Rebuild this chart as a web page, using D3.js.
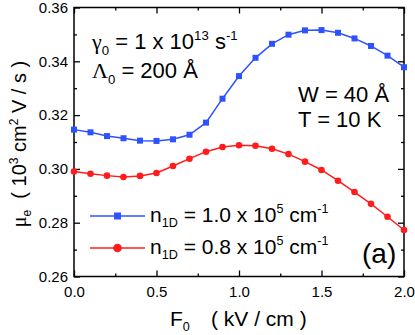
<!DOCTYPE html>
<html><head><meta charset="utf-8">
<script src="https://cdn.jsdelivr.net/npm/d3@7"></script>
<style>
html,body{margin:0;padding:0;background:#fff;}
svg{display:block;font-family:"Liberation Sans",Arial,sans-serif;}
text{white-space:pre;}
</style></head>
<body>
<svg id="c" width="415" height="335"></svg>
<script>
const xValues = [0.0,0.1,0.2,0.3,0.4,0.5,0.6,0.7,0.8,0.9,1.0,1.1,1.2,1.3,1.4,1.5,1.6,1.7,1.8,1.9,2.0];
const blueValues = [0.3146,0.3136,0.3122,0.3114,0.3105,0.3104,0.3110,0.3127,0.3172,0.3261,0.3345,0.3413,0.3465,0.3499,0.3515,0.3516,0.3506,0.3485,0.3457,0.3421,0.3378];
const redValues = [0.2990,0.2982,0.2975,0.2970,0.2974,0.2985,0.3011,0.3038,0.3064,0.3081,0.3088,0.3086,0.3075,0.3055,0.3027,0.2996,0.2956,0.2914,0.2870,0.2822,0.2773];
const xTicks = [0.0,0.5,1.0,1.5,2.0];
const xTickLabels = ["0.0","0.5","1.0","1.5","2.0"];
const yTicks = [0.26,0.28,0.30,0.32,0.34,0.36];
const yTickLabels = ["0.26","0.28","0.30","0.32","0.34","0.36"];
const xMinor = [0.25,0.75,1.25,1.75];
const yMinor = [0.27,0.29,0.31,0.33,0.35];

const BLUE = "#2f52ff", RED = "#ff1c1c";
const L = 74, R = 404, T = 7.5, B = 276.5;
const svg = d3.select("#c");
const x = d3.scaleLinear().domain([0,2]).range([L,R]);
const y = d3.scaleLinear().domain([0.26,0.36]).range([B,T]);

function ax(axisGen, tx, ty, vals, size, fmt) {
  const g = svg.append("g").attr("transform",`translate(${tx},${ty})`)
    .call(axisGen.tickValues(vals).tickSizeInner(size).tickSizeOuter(0).tickFormat(fmt));
  g.select(".domain").remove();
  g.selectAll("line").attr("stroke","#000").attr("stroke-width",1.3);
  return g;
}
const none = () => "";
const bx = ax(d3.axisBottom(x), 0, B, xTicks, -6, (d,i)=>xTickLabels[i]);
bx.selectAll("text").attr("y",10).attr("dy","0.71em").attr("font-size",15).attr("font-family","Liberation Sans, Arial, sans-serif").attr("fill","#000");
ax(d3.axisBottom(x), 0, B, xMinor, -3, none);
ax(d3.axisTop(x), 0, T, xTicks, -6, none);
ax(d3.axisTop(x), 0, T, xMinor, -3, none);
const ly = ax(d3.axisLeft(y), L, 0, yTicks, -6, (d,i)=>yTickLabels[i]);
ly.selectAll("text").attr("x",-6).attr("font-size",15).attr("font-family","Liberation Sans, Arial, sans-serif").attr("fill","#000");
ax(d3.axisLeft(y), L, 0, yMinor, -3, none);
ax(d3.axisRight(y), R, 0, yTicks, -6, none);
ax(d3.axisRight(y), R, 0, yMinor, -3, none);

svg.append("rect").attr("x",L).attr("y",T).attr("width",R-L).attr("height",B-T)
  .attr("fill","none").attr("stroke","#000").attr("stroke-width",1.5);

const line = d3.line().x((d,i)=>x(xValues[i])).y(d=>y(d));
svg.append("path").datum(blueValues).attr("d",line).attr("fill","none").attr("stroke",BLUE).attr("stroke-width",1.5);
svg.append("path").datum(redValues).attr("d",line).attr("fill","none").attr("stroke",RED).attr("stroke-width",1.5);
svg.append("g").selectAll("rect").data(blueValues).join("rect")
  .attr("x",(d,i)=>x(xValues[i])-3).attr("y",d=>y(d)-3).attr("width",6).attr("height",6).attr("fill",BLUE);
svg.append("g").selectAll("circle").data(redValues).join("circle")
  .attr("cx",(d,i)=>x(xValues[i])).attr("cy",d=>y(d)).attr("r",3.3).attr("fill",RED);

function rich(parent, px, py, parts, fs, anchor) {
  const t = parent.append("text").attr("x",px).attr("y",py).attr("font-size",fs).attr("fill","#000")
    .attr("text-anchor",anchor||"start");
  let shift = 0;
  parts.forEach(p => {
    const s = t.append("tspan").text(p.t);
    let target = 0, size = fs;
    if (p.sub) { target = fs*0.25; size = fs*0.6; }
    if (p.sup) { target = -fs*0.42; size = fs*0.6; }
    s.attr("dy", target - shift).attr("font-size", size);
    if (p.serif) s.attr("font-family","Liberation Serif, Times New Roman, serif");
    if (p.x !== undefined) s.attr("x", p.x);
    shift = target;
  });
  return t;
}

rich(svg, 92, 49, [{t:"γ",serif:true},{t:"0",sub:true},{t:" = 1 x 10"},{t:"13",sup:true},{t:" s"},{t:"-1",sup:true}], 22);
rich(svg, 92, 78, [{t:"Λ",serif:true},{t:"0",sub:true},{t:" = 200 Å"}], 22);
rich(svg, 298, 102, [{t:"W = 40 Å"}], 22);
rich(svg, 298, 127, [{t:"T = 10 K"}], 22);
rich(svg, 362, 263, [{t:"(a)"}], 28);

const legend = [
  {color:BLUE, shape:"square", y:216, label:"1.0"},
  {color:RED, shape:"circle", y:248, label:"0.8"}
];
legend.forEach(d => {
  svg.append("line").attr("x1",90).attr("x2",145).attr("y1",d.y).attr("y2",d.y).attr("stroke",d.color).attr("stroke-width",1.5);
  if (d.shape==="square") svg.append("rect").attr("x",117.5-3.5).attr("y",d.y-3.5).attr("width",7).attr("height",7).attr("fill",d.color);
  else svg.append("circle").attr("cx",117.5).attr("cy",d.y).attr("r",4.3).attr("fill",d.color);
  rich(svg, 150, d.y+6, [{t:"n"},{t:"1D",sub:true},{t:" = "+d.label+" x 10"},{t:"5",sup:true},{t:" cm"},{t:"-1",sup:true}], 21);
});

rich(svg, 170, 326, [{t:"F"},{t:"0",sub:true},{t:"( kV / cm )", x:211}], 21);
const yt = svg.append("g").attr("transform","translate(26,144) rotate(-90)");
rich(yt, 0, 0, [{t:"μ",serif:true},{t:"e",sub:true},{t:"  ( 10"},{t:"3",sup:true},{t:" cm"},{t:"2",sup:true},{t:" V / s )"}], 20, "middle");
</script>
</body></html>
